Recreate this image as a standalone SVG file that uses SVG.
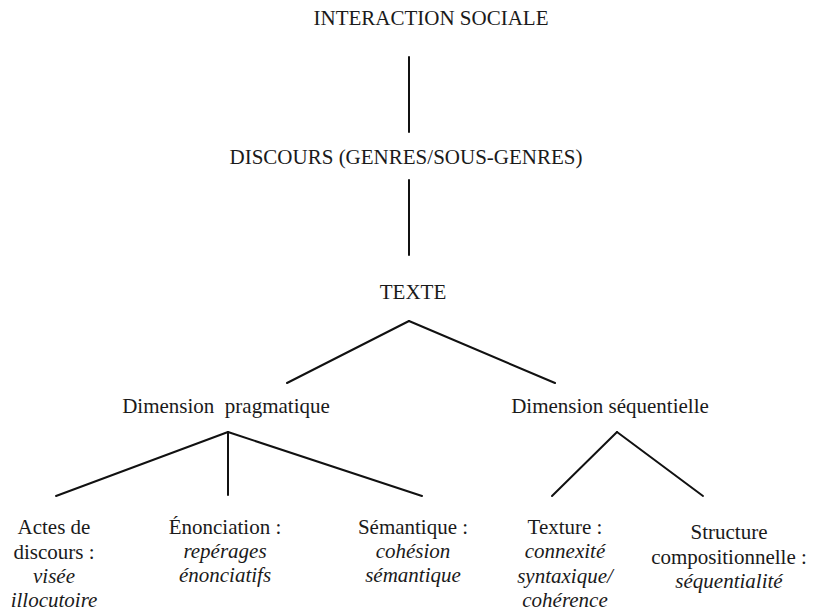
<svg xmlns="http://www.w3.org/2000/svg" width="813" height="612" viewBox="0 0 813 612">
<style>
text{font-family:"Liberation Serif","Times New Roman",serif;font-size:21px;fill:#1a1a1a;text-anchor:middle}
.i{font-style:italic}
.c line{stroke:#111;stroke-width:2;stroke-linecap:round}
</style>
<rect width="813" height="612" fill="#fff"/>
<g class="c" id="connectors">
<line x1="409" y1="57" x2="409" y2="132"/>
<line x1="409" y1="180" x2="409" y2="255"/>
<line x1="409" y1="321" x2="287" y2="383"/>
<line x1="409" y1="321" x2="555" y2="383"/>
<line x1="228" y1="432" x2="56" y2="496"/>
<line x1="228" y1="432" x2="228" y2="495"/>
<line x1="228" y1="432" x2="422" y2="496"/>
<line x1="617" y1="432" x2="552" y2="496"/>
<line x1="617" y1="432" x2="703" y2="496"/>
</g>
<g id="interaction"><text x="431" y="25">INTERACTION SOCIALE</text></g>
<g id="discours"><text x="406" y="164">DISCOURS (GENRES/SOUS-GENRES)</text></g>
<g id="texte"><text x="413" y="299">TEXTE</text></g>
<g id="pragmatique"><text x="226" y="413" xml:space="preserve">Dimension  pragmatique</text></g>
<g id="sequentielle"><text x="610" y="413">Dimension séquentielle</text></g>
<g id="actes"><text x="54" y="534">Actes de</text><text x="54" y="559">discours :</text><text class="i" x="54" y="583">visée</text><text class="i" x="54" y="607">illocutoire</text></g>
<g id="enonciation"><text x="225" y="534">Énonciation :</text><text class="i" x="225" y="558">repérages</text><text class="i" x="225" y="582">énonciatifs</text></g>
<g id="semantique"><text x="413" y="534">Sémantique :</text><text class="i" x="413" y="558">cohésion</text><text class="i" x="413" y="582">sémantique</text></g>
<g id="texture"><text x="565" y="534">Texture :</text><text class="i" x="565" y="558">connexité</text><text class="i" x="565" y="583">syntaxique/</text><text class="i" x="565" y="607">cohérence</text></g>
<g id="structure"><text x="729" y="539">Structure</text><text x="729" y="564">compositionnelle :</text><text class="i" x="729" y="588">séquentialité</text></g>
</svg>
